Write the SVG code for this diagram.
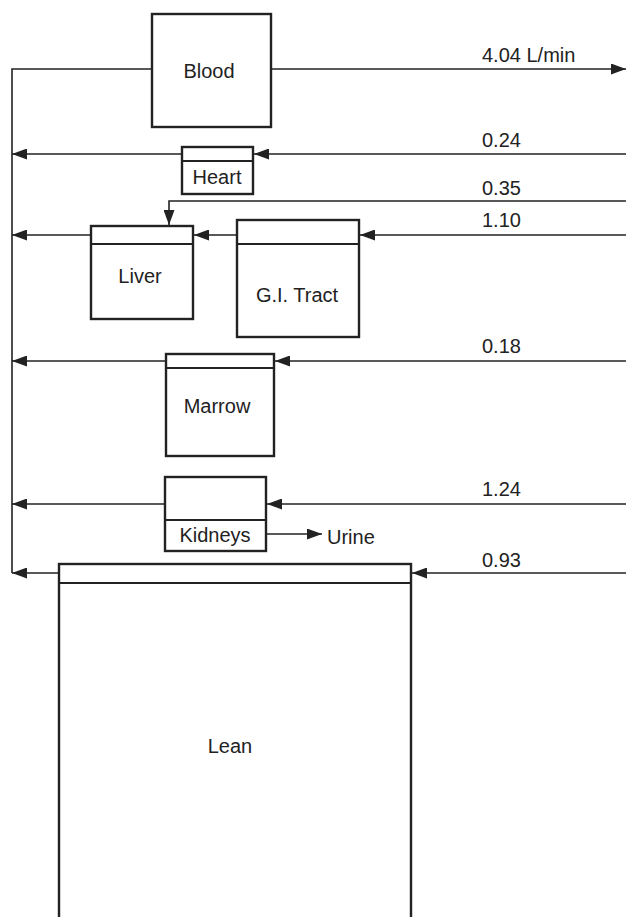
<svg xmlns="http://www.w3.org/2000/svg" width="626" height="917" viewBox="0 0 626 917">
<style>
.box{fill:#fff;stroke:#222;stroke-width:2.4}
.div{stroke:#222;stroke-width:2.2}
.ln{fill:none;stroke:#222;stroke-width:1.6}
.t{font-family:"Liberation Sans",Arial,sans-serif;font-size:20px;fill:#222}
.c{text-anchor:middle}
</style>
<defs>
<marker id="ah" markerUnits="userSpaceOnUse" markerWidth="15" markerHeight="11" refX="15" refY="5.5" orient="auto">
<path d="M0,0 L15,5.5 L0,11 z" fill="#222"/>
</marker>
</defs>
<rect width="626" height="917" fill="#fff"/>
<g id="connectors">
<polyline class="ln" points="152,69 12,69 12,573" stroke-width="2"/>
<line class="ln" x1="271" y1="69" x2="626" y2="69" marker-end="url(#ah)"/>
<line class="ln" x1="626" y1="154" x2="254" y2="154" marker-end="url(#ah)"/>
<line class="ln" x1="182" y1="154" x2="12" y2="154" marker-end="url(#ah)"/>
<polyline class="ln" points="626,201 169,201 169,225" marker-end="url(#ah)"/>
<line class="ln" x1="626" y1="235" x2="360" y2="235" marker-end="url(#ah)"/>
<line class="ln" x1="237" y1="235" x2="194" y2="235" marker-end="url(#ah)"/>
<line class="ln" x1="91" y1="235" x2="12" y2="235" marker-end="url(#ah)"/>
<line class="ln" x1="626" y1="361" x2="275" y2="361" marker-end="url(#ah)"/>
<line class="ln" x1="166" y1="361" x2="12" y2="361" marker-end="url(#ah)"/>
<line class="ln" x1="626" y1="504" x2="267" y2="504" marker-end="url(#ah)"/>
<line class="ln" x1="165" y1="504" x2="12" y2="504" marker-end="url(#ah)"/>
<line class="ln" x1="266" y1="534" x2="322" y2="534" marker-end="url(#ah)"/>
<line class="ln" x1="626" y1="573" x2="412" y2="573" marker-end="url(#ah)"/>
<line class="ln" x1="59" y1="573" x2="12" y2="573" marker-end="url(#ah)"/>
</g>
<g id="labels">
<text class="t" x="482" y="62">4.04 L/min</text>
<text class="t" x="482" y="147">0.24</text>
<text class="t" x="482" y="195">0.35</text>
<text class="t" x="482" y="227">1.10</text>
<text class="t" x="482" y="353">0.18</text>
<text class="t" x="482" y="496">1.24</text>
<text class="t" x="482" y="567">0.93</text>
<text class="t" x="327" y="544">Urine</text>
</g>
<g id="blood">
<rect class="box" x="152" y="14" width="119" height="113"/>
<text class="t c" x="209" y="78">Blood</text>
</g>
<g id="heart">
<rect class="box" x="182" y="147" width="71" height="47"/>
<line class="div" x1="182" y1="161" x2="253" y2="161"/>
<text class="t c" x="217" y="184">Heart</text>
</g>
<g id="liver">
<rect class="box" x="91" y="226" width="102" height="93"/>
<line class="div" x1="91" y1="244" x2="193" y2="244"/>
<text class="t c" x="140" y="283">Liver</text>
</g>
<g id="gi-tract">
<rect class="box" x="237" y="220" width="122" height="117"/>
<line class="div" x1="237" y1="244" x2="359" y2="244"/>
<text class="t c" x="297" y="302">G.I. Tract</text>
</g>
<g id="marrow">
<rect class="box" x="166" y="354" width="108" height="102"/>
<line class="div" x1="166" y1="368" x2="274" y2="368"/>
<text class="t c" x="217" y="413">Marrow</text>
</g>
<g id="kidneys">
<rect class="box" x="165" y="477" width="101" height="74"/>
<line class="div" x1="165" y1="520" x2="266" y2="520"/>
<text class="t c" x="215" y="542">Kidneys</text>
</g>
<g id="lean">
<rect class="box" x="59" y="564" width="352" height="360"/>
<line class="div" x1="59" y1="583" x2="411" y2="583"/>
<text class="t c" x="230" y="753">Lean</text>
</g>
</svg>
